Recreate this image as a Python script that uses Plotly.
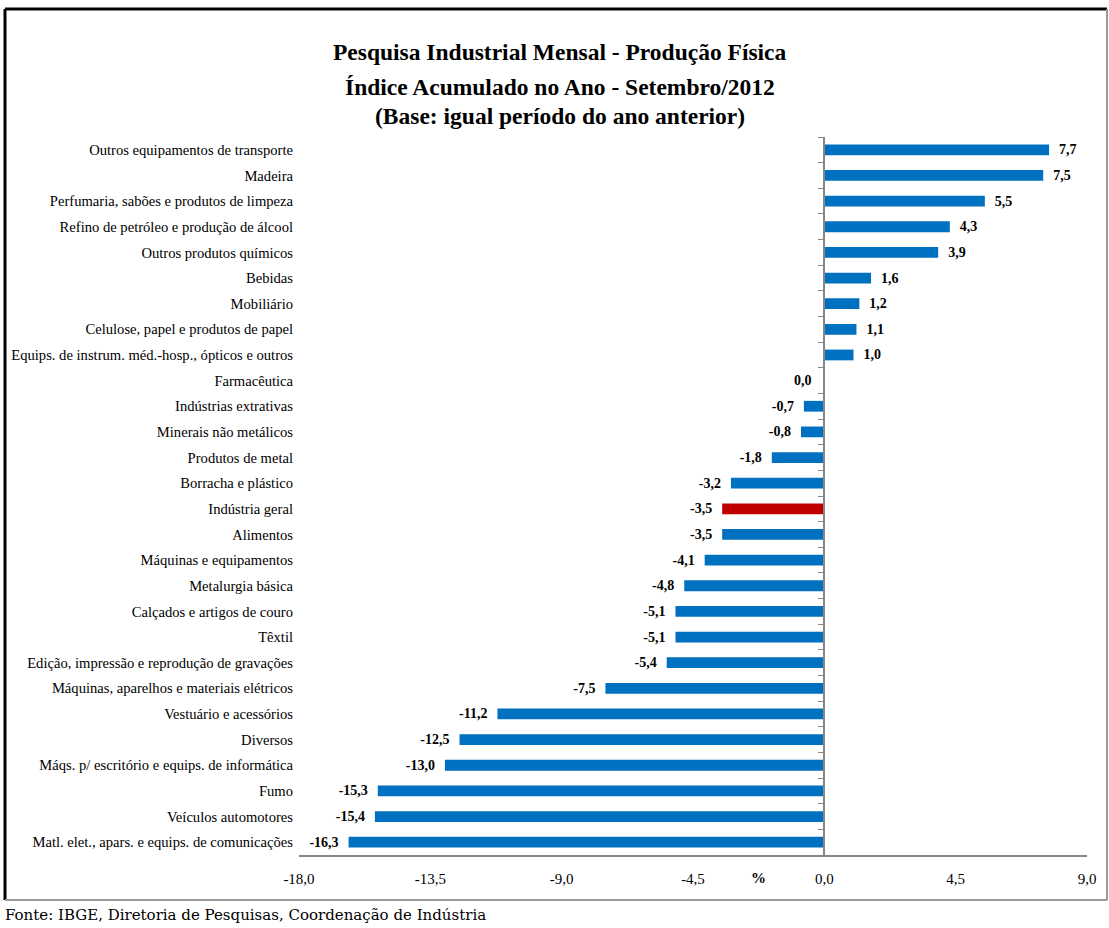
import plotly.graph_objects as go

categories = [
    "Outros equipamentos de transporte",
    "Madeira",
    "Perfumaria, sabões e produtos de limpeza",
    "Refino de petróleo e produção de álcool",
    "Outros produtos químicos",
    "Bebidas",
    "Mobiliário",
    "Celulose, papel e produtos de papel",
    "Equips. de instrum. méd.-hosp., ópticos e outros",
    "Farmacêutica",
    "Indústrias extrativas",
    "Minerais não metálicos",
    "Produtos de metal",
    "Borracha e plástico",
    "Indústria geral",
    "Alimentos",
    "Máquinas e equipamentos",
    "Metalurgia básica",
    "Calçados e artigos de couro",
    "Têxtil",
    "Edição, impressão e reprodução de gravações",
    "Máquinas, aparelhos e materiais elétricos",
    "Vestuário e acessórios",
    "Diversos",
    "Máqs. p/ escritório e equips. de informática",
    "Fumo",
    "Veículos automotores",
    "Matl. elet., apars. e equips. de comunicações",
]
values = [7.7, 7.5, 5.5, 4.3, 3.9, 1.6, 1.2, 1.1, 1.0, 0.0, -0.7, -0.8, -1.8, -3.2,
          -3.5, -3.5, -4.1, -4.8, -5.1, -5.1, -5.4, -7.5, -11.2, -12.5, -13.0,
          -15.3, -15.4, -16.3]
highlight = "Indústria geral"
x_ticks = [-18.0, -13.5, -9.0, -4.5, 0.0, 4.5, 9.0]

W, H = 1109, 928
L, R, T, B = 299, 1087, 137, 855
X_MIN, X_MAX = -18.0, 9.0


def px_x(px):
    return (px - L) / (R - L)


def px_y(py):
    return (B - py) / (B - T)


def fmt(v):
    return f"{v:.1f}".replace(".", ",")


BLUE = "#0070C0"
RED = "#C00000"
SERIF = "Liberation Serif"
PAD = "\u00a0\u00a0"
LABEL_FONT = dict(family=SERIF, size=14, color="black", weight="bold")

colors = [RED if c == highlight else BLUE for c in categories]
labels = []
for v in values:
    if v > 0:
        labels.append(PAD + fmt(v))
    elif v < 0:
        labels.append(fmt(v) + PAD)
    else:
        labels.append("")

fig = go.Figure()
fig.add_trace(go.Bar(
    y=categories, x=values, orientation="h",
    marker=dict(color=colors, line=dict(width=0)),
    width=0.42,
    text=labels, textposition="outside", cliponaxis=False,
    constraintext="none", textfont=LABEL_FONT,
    hoverinfo="skip",
))
# invisible trace to carry the zero axis with boundary ticks
fig.add_trace(go.Scatter(
    y=categories, x=[0] * len(categories), yaxis="y2",
    mode="markers", marker=dict(opacity=0), hoverinfo="skip",
))

# zero values: label sits left of the axis, as in the original
for c, v in zip(categories, values):
    if v == 0:
        fig.add_annotation(x=v, y=c, text=fmt(v), showarrow=False,
                           xanchor="right", xshift=-10, font=LABEL_FONT)

n = len(categories)
fig.update_layout(
    width=W, height=H,
    margin=dict(l=L, r=W - R, t=T, b=H - B),
    plot_bgcolor="white", paper_bgcolor="white",
    showlegend=False,
    separators=",.",
    font=dict(family=SERIF, size=15, color="black"),
    xaxis=dict(
        range=[X_MIN, X_MAX], tickvals=x_ticks, ticktext=[fmt(v) for v in x_ticks],
        showgrid=False, zeroline=False, showline=True, automargin=False,
        linecolor="#868686", linewidth=2, ticks="", ticklabelstandoff=9,
        tickfont=dict(family=SERIF, size=15, color="black"),
    ),
    yaxis=dict(
        range=[n - 0.5, -0.5], showgrid=False, zeroline=False, automargin=False,
        showline=False, ticks="", ticklabelstandoff=5,
        tickfont=dict(family=SERIF, size=14.6, color="black"),
    ),
    yaxis2=dict(
        range=[n - 0.5, -0.5], overlaying="y", anchor="free", automargin=False,
        position=(0 - X_MIN) / (X_MAX - X_MIN),
        showgrid=False, zeroline=False, showline=True,
        linecolor="#868686", linewidth=2,
        ticks="outside", ticklen=5, tickcolor="#868686", tickwidth=1,
        tickson="boundaries", showticklabels=False,
    ),
)

titles = [
    ("Pesquisa Industrial Mensal - Produção Física", 52),
    ("Índice Acumulado no Ano - Setembro/2012", 87),
    ("(Base: igual período do ano anterior)", 116),
]
for txt, py in titles:
    fig.add_annotation(
        text=txt, x=px_x(560), y=px_y(py), xref="paper", yref="paper",
        showarrow=False, xanchor="center", yanchor="middle",
        font=dict(family=SERIF, size=23.5, color="black", weight="bold"),
    )

fig.add_annotation(
    text="%", x=px_x(758), y=px_y(878), xref="paper", yref="paper",
    showarrow=False, xanchor="center", yanchor="middle",
    font=dict(family=SERIF, size=15, color="black", weight="bold"),
)
fig.add_annotation(
    text="Fonte: IBGE, Diretoria de Pesquisas, Coordenação de Indústria",
    x=px_x(3), y=px_y(915), xref="paper", yref="paper",
    showarrow=False, xanchor="left", yanchor="middle",
    font=dict(family="DejaVu Serif", size=15, color="black"),
)

# outer frame: dark top/left, grey right/bottom
x0, x1, y0, y1 = px_x(5), px_x(1107), px_y(9), px_y(900)
fig.add_shape(type="line", xref="paper", yref="paper", x0=x0, x1=x1, y0=y0, y1=y0,
              line=dict(color="black", width=3))
fig.add_shape(type="line", xref="paper", yref="paper", x0=x0, x1=x0, y0=y0, y1=y1,
              line=dict(color="black", width=3))
fig.add_shape(type="line", xref="paper", yref="paper", x0=x1, x1=x1, y0=y0, y1=y1,
              line=dict(color="#9a9a9a", width=2))
fig.add_shape(type="line", xref="paper", yref="paper", x0=x0, x1=x1, y0=y1, y1=y1,
              line=dict(color="#9a9a9a", width=2))

fig.write_html("out.html", config={"displayModeBar": False},
               post_script="document.body.style.margin='0';")
